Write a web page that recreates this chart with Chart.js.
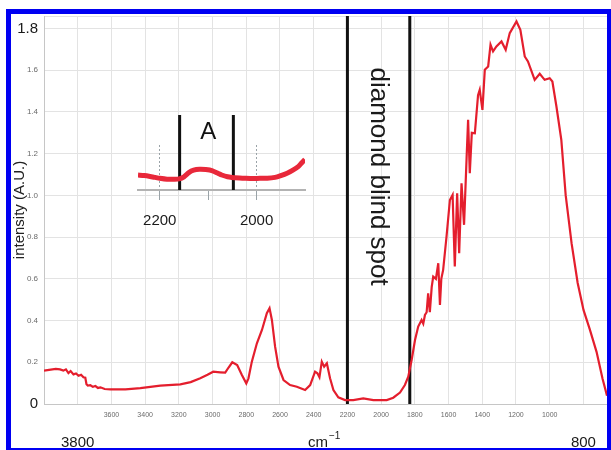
<!DOCTYPE html>
<html>
<head>
<meta charset="utf-8">
<script src="https://cdn.jsdelivr.net/npm/chart.js@4/dist/chart.umd.min.js"></script>
<style>
html, body { margin: 0; padding: 0; background: #fff; }
#wrap { position: relative; width: 611px; height: 450px; overflow: hidden; }
#main { position: absolute; left: 0; top: 0; }
#inset { position: absolute; left: 120px; top: 100px; }
#frame { position: absolute; left: 6px; top: 9px; right: 0; bottom: 0; border-style: solid; border-color: #0000f2; border-width: 5px 4px 2px 5px; pointer-events: none; }
</style>
</head>
<body>
<div id="wrap">
  <canvas id="main" width="611" height="450"></canvas>
  <canvas id="inset" width="200" height="140"></canvas>
  <div id="frame"></div>
</div>
<script>
// main spectrum (wavenumber in cm-1, intensity in A.U.)
const wavenumbers = [4000, 3960, 3930, 3905, 3885, 3870, 3855, 3842, 3825, 3810, 3795, 3780, 3766, 3755, 3748, 3740, 3725, 3710, 3695, 3680, 3665, 3640, 3606, 3517, 3428, 3310, 3191, 3130, 3073, 3030, 2996, 2955, 2925, 2905, 2883, 2854, 2826, 2800, 2787, 2767, 2737, 2707, 2678, 2662, 2648, 2629, 2609, 2579, 2540, 2500, 2451, 2421, 2392, 2378, 2366, 2352, 2338, 2322, 2303, 2283, 2254, 2214, 2165, 2106, 2046, 1967, 1928, 1888, 1859, 1839, 1819, 1799, 1780, 1760, 1750, 1740, 1730, 1721, 1711, 1700, 1691, 1675, 1661, 1651, 1643, 1632, 1612, 1592, 1576, 1563, 1549, 1537, 1523, 1508, 1493, 1484, 1474, 1462, 1444, 1425, 1415, 1399, 1385, 1365, 1351, 1336, 1316, 1286, 1261, 1237, 1197, 1174, 1148, 1129, 1089, 1059, 1030, 1000, 984, 960, 931, 905, 870, 834, 799, 763, 722, 686, 660];
const intensity = [0.160, 0.165, 0.168, 0.166, 0.160, 0.166, 0.148, 0.158, 0.142, 0.146, 0.135, 0.140, 0.128, 0.126, 0.095, 0.088, 0.090, 0.082, 0.086, 0.077, 0.080, 0.072, 0.070, 0.070, 0.076, 0.088, 0.094, 0.105, 0.123, 0.140, 0.155, 0.152, 0.150, 0.175, 0.200, 0.187, 0.139, 0.099, 0.123, 0.203, 0.291, 0.355, 0.435, 0.459, 0.403, 0.275, 0.179, 0.115, 0.091, 0.083, 0.067, 0.091, 0.155, 0.147, 0.128, 0.203, 0.179, 0.195, 0.123, 0.067, 0.032, 0.019, 0.019, 0.027, 0.019, 0.019, 0.030, 0.055, 0.091, 0.131, 0.211, 0.307, 0.371, 0.403, 0.385, 0.427, 0.440, 0.531, 0.440, 0.560, 0.611, 0.600, 0.675, 0.475, 0.600, 0.643, 0.803, 0.978, 1.002, 0.659, 1.010, 0.723, 1.058, 0.859, 1.178, 1.362, 1.106, 1.300, 1.298, 1.480, 1.506, 1.410, 1.602, 1.618, 1.722, 1.690, 1.714, 1.738, 1.698, 1.778, 1.834, 1.794, 1.666, 1.642, 1.554, 1.583, 1.554, 1.562, 1.546, 1.426, 1.266, 1.000, 0.770, 0.580, 0.450, 0.360, 0.250, 0.120, 0.040];

const blindSpotEdges = [2200, 1830];
const gridWavenumbers = [3800, 3600, 3400, 3200, 3000, 2800, 2600, 2400, 2200, 2000, 1800, 1600, 1400, 1200, 1000, 800];
const labelledWavenumbers = [3600, 3400, 3200, 3000, 2800, 2600, 2400, 2200, 2000, 1800, 1600, 1400, 1200, 1000];
const intensityTicks = [0, 0.2, 0.4, 0.6, 0.8, 1.0, 1.2, 1.4, 1.6, 1.8];
const bigIntensityTicks = [0, 1.8];
const bigWavenumberLabels = [3800, 800];

// inset: zoom of region A
const insetWavenumbers = [2245, 2232, 2220, 2210, 2200, 2185, 2170, 2160, 2150, 2140, 2130, 2118, 2105, 2091, 2080, 2072, 2060, 2051, 2035, 2024, 2008, 1993, 1978, 1962, 1950, 1937, 1925, 1914, 1907, 1900];
const insetIntensity = [0.025, 0.024, 0.0225, 0.021, 0.0195, 0.018, 0.018, 0.0185, 0.022, 0.029, 0.033, 0.0345, 0.034, 0.032, 0.028, 0.025, 0.022, 0.021, 0.020, 0.0195, 0.019, 0.0195, 0.0195, 0.021, 0.024, 0.028, 0.033, 0.039, 0.045, 0.051];
const insetMarks = [2159, 2048];
const insetTicks = [2200, 2100, 2000];
const insetLabelled = [2200, 2000];

const xMin = 660, xMax = 4000, yMax = 1.86;
const insetXMin = 1900, insetXMax = 2245, insetYMax = 0.075, insetMarkTop = 0.125;
const family = '"Liberation Sans", Arial, sans-serif';

const isBig = c => !!c.tick && bigIntensityTicks.some(b => Math.abs(b - c.tick.value) < 1e-6);

const mainText = {
    id: 'mainText',
    afterDatasetsDraw(chart) {
        const {ctx, scales: {x, y}} = chart;
        ctx.save();
        ctx.fillStyle = '#1a1a1a';
        // rotated label between the two lines
        const cx = (x.getPixelForValue(blindSpotEdges[0]) + x.getPixelForValue(blindSpotEdges[1])) / 2;
        ctx.translate(cx, y.getPixelForValue(1.09));
        ctx.rotate(Math.PI / 2);
        ctx.font = '26px ' + family;
        ctx.textAlign = 'center';
        ctx.textBaseline = 'middle';
        ctx.fillText('diamond blind spot', 0, 0);
        ctx.restore();

        ctx.save();
        ctx.fillStyle = '#1a1a1a';
        ctx.font = '15px ' + family;
        ctx.textAlign = 'center';
        ctx.textBaseline = 'alphabetic';
        bigWavenumberLabels.forEach(v => ctx.fillText(String(v), x.getPixelForValue(v), 447));
        ctx.textAlign = 'left';
        const cmX = 308;
        ctx.fillText('cm', cmX, 447);
        const w = ctx.measureText('cm').width;
        ctx.font = '10px ' + family;
        ctx.fillText('\u22121', cmX + w + 1, 439);
        ctx.restore();
    }
};

new Chart(document.getElementById('main'), {
    type: 'line',
    data: {
        datasets: [
            {
                label: 'spectrum',
                data: wavenumbers.map((w, i) => ({x: w, y: intensity[i]})),
                borderColor: '#e41e2d',
                borderWidth: 2.2,
                pointRadius: 0,
                tension: 0
            },
            ...blindSpotEdges.map(w => ({
                label: 'edge',
                data: [{x: w, y: 0}, {x: w, y: yMax}],
                borderColor: '#111',
                borderWidth: 3,
                pointRadius: 0
            }))
        ]
    },
    options: {
        responsive: false,
        animation: false,
        events: [],
        layout: {padding: {left: 0, top: 16, right: 4, bottom: 0}},
        plugins: {legend: {display: false}, tooltip: {enabled: false}},
        scales: {
            x: {
                type: 'linear',
                reverse: true,
                min: xMin,
                max: xMax,
                afterBuildTicks: s => { s.ticks = gridWavenumbers.map(v => ({value: v})); },
                afterFit: s => { s.height = 46; s.paddingLeft = 0; s.paddingRight = 0; },
                grid: {color: '#e3e3e3', drawTicks: false},
                border: {color: '#c6c6c6'},
                ticks: {
                    autoSkip: false,
                    maxRotation: 0,
                    padding: 7,
                    font: {size: 7, family},
                    color: '#6a6a6a',
                    callback: v => labelledWavenumbers.includes(v) ? String(v) : ''
                }
            },
            y: {
                type: 'linear',
                min: 0,
                max: yMax,
                afterBuildTicks: s => { s.ticks = intensityTicks.concat([yMax]).map(v => ({value: v})); },
                afterFit: s => { s.width = 44; s.paddingTop = 0; s.paddingBottom = 0; },
                grid: {color: '#e3e3e3', drawTicks: false},
                border: {color: '#c6c6c6'},
                title: {
                    display: true,
                    text: 'intensity (A.U.)',
                    font: {size: 15, family},
                    color: '#222',
                    padding: {top: 11, bottom: 0}
                },
                ticks: {
                    autoSkip: false,
                    padding: 6,
                    font: c => isBig(c) ? {size: 15, family} : {size: 8, family},
                    color: c => isBig(c) ? '#1a1a1a' : '#6a6a6a',
                    callback: v => v > 1.81 ? '' : (v === 0 ? '0' : v.toFixed(1))
                }
            }
        }
    },
    plugins: [mainText]
});

const insetText = {
    id: 'insetText',
    afterDatasetsDraw(chart) {
        const {ctx, chartArea, scales: {x}} = chart;
        ctx.save();
        ctx.fillStyle = '#111';
        ctx.font = '24px ' + family;
        ctx.textAlign = 'center';
        ctx.textBaseline = 'middle';
        ctx.fillText('A', x.getPixelForValue(2100), chartArea.top - 13);
        ctx.restore();
    }
};

new Chart(document.getElementById('inset'), {
    type: 'line',
    data: {
        datasets: [
            {
                label: 'region A',
                data: insetWavenumbers.map((w, i) => ({x: w, y: insetIntensity[i]})),
                borderColor: '#e8283a',
                borderWidth: 5,
                pointRadius: 0,
                tension: 0.2
            },
            ...insetMarks.map(w => ({
                label: 'mark',
                data: [{x: w, y: 0}, {x: w, y: insetMarkTop}],
                borderColor: '#111',
                borderWidth: 3,
                pointRadius: 0,
                clip: false
            }))
        ]
    },
    options: {
        responsive: false,
        animation: false,
        events: [],
        layout: {padding: {left: 18, top: 45, right: 15, bottom: 0}},
        plugins: {legend: {display: false}, tooltip: {enabled: false}},
        scales: {
            x: {
                type: 'linear',
                reverse: true,
                min: insetXMin,
                max: insetXMax,
                afterBuildTicks: s => { s.ticks = insetTicks.map(v => ({value: v})); },
                afterFit: s => { s.height = 50; s.paddingLeft = 0; s.paddingRight = 0; },
                grid: {
                    color: c => c.tick && insetLabelled.includes(c.tick.value) ? '#9aa3a8' : 'rgba(0,0,0,0)',
                    tickColor: '#9aa3a8',
                    tickLength: 10
                },
                border: {color: '#b3b3b3', width: 2, dash: [2, 2]},
                ticks: {
                    autoSkip: false,
                    maxRotation: 0,
                    padding: 12,
                    font: {size: 15, family},
                    color: '#1a1a1a',
                    callback: v => insetLabelled.includes(v) ? String(v) : ''
                }
            },
            y: {display: false, min: 0, max: insetYMax}
        }
    },
    plugins: [insetText]
});
</script>
</body>
</html>
